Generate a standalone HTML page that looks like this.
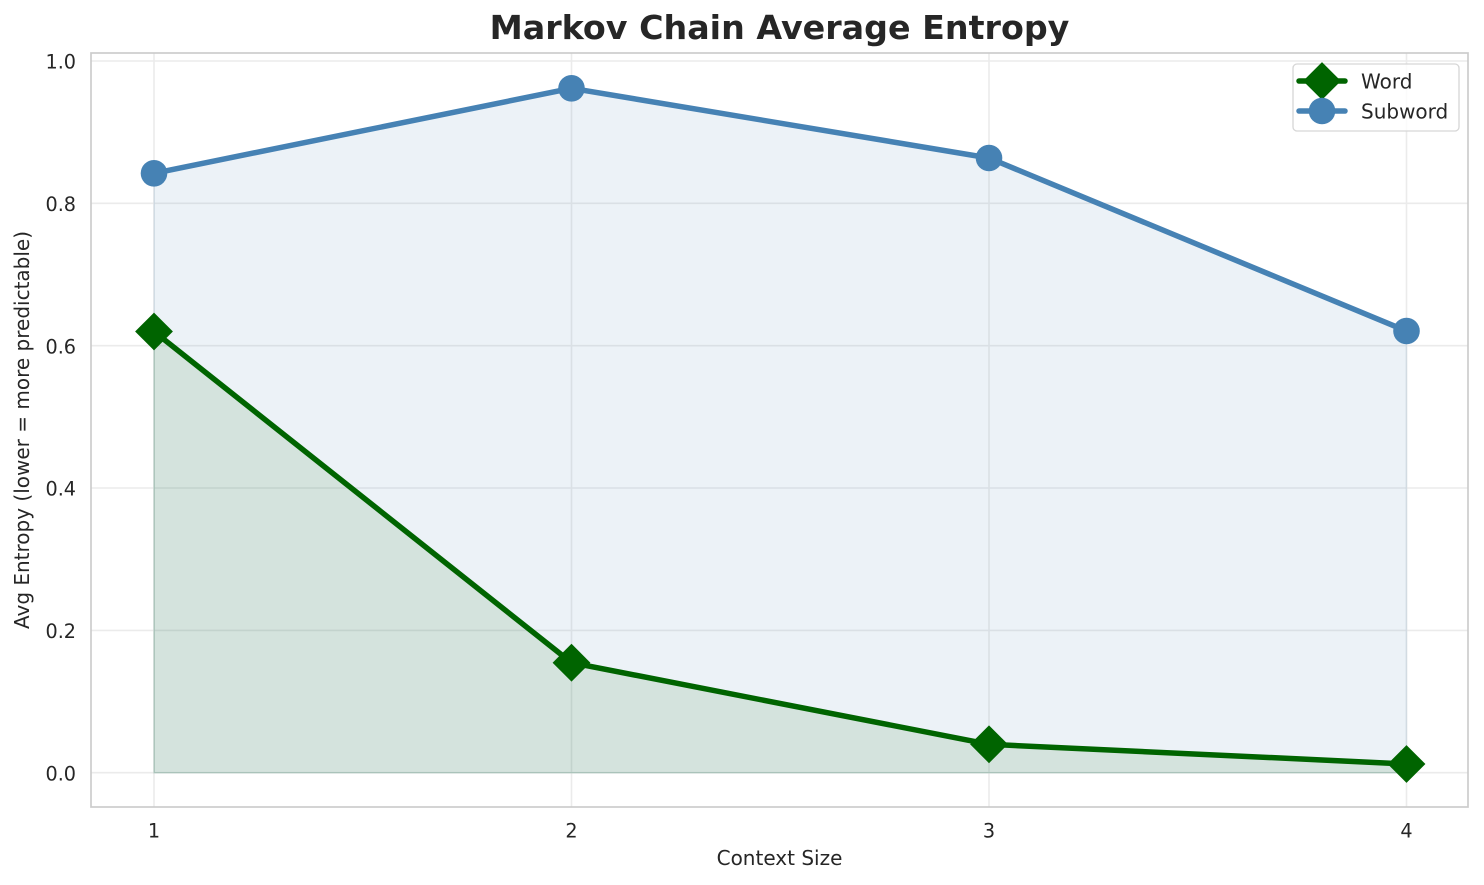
<!DOCTYPE html>
<html>
<head>
<meta charset="utf-8">
<style>
html,body{margin:0;padding:0;background:#fff;}
svg{display:block;}
text{font-family:"DejaVu Sans","Liberation Sans",sans-serif;fill:#262626;}
</style>
</head>
<body>
<svg width="1484" height="885" viewBox="0 0 1484 885" xmlns="http://www.w3.org/2000/svg">
  <rect x="0" y="0" width="1484" height="885" fill="#fff"/>
  <!-- grid -->
  <g stroke="#ebebeb" stroke-width="1.6">
    <line x1="91" y1="772.7" x2="1468" y2="772.7"/>
    <line x1="91" y1="630.4" x2="1468" y2="630.4"/>
    <line x1="91" y1="488" x2="1468" y2="488"/>
    <line x1="91" y1="345.7" x2="1468" y2="345.7"/>
    <line x1="91" y1="203.3" x2="1468" y2="203.3"/>
    <line x1="91" y1="61" x2="1468" y2="61"/>
    <line x1="154" y1="53" x2="154" y2="807"/>
    <line x1="571.5" y1="53" x2="571.5" y2="807"/>
    <line x1="989" y1="53" x2="989" y2="807"/>
    <line x1="1406.5" y1="53" x2="1406.5" y2="807"/>
  </g>
  <!-- fills -->
  <polygon points="154,772.7 154,173.3 571.5,88.3 989,158 1406.5,331 1406.5,772.7" fill="rgb(70,130,180)" fill-opacity="0.1" stroke="rgb(70,130,180)" stroke-opacity="0.1" stroke-width="1.5"/>
  <polygon points="154,772.7 154,331.5 571.5,662.7 989,744.3 1406.5,764 1406.5,772.7" fill="rgb(0,100,0)" fill-opacity="0.1" stroke="rgb(0,100,0)" stroke-opacity="0.1" stroke-width="1.5"/>
  <!-- spines -->
  <rect x="91" y="53" width="1377" height="754" fill="none" stroke="#cccccc" stroke-width="1.7"/>
  <!-- word line -->
  <polyline points="154,331.5 571.5,662.7 989,744.3 1406.5,764" fill="none" stroke="#006400" stroke-width="5.5" stroke-linejoin="round" stroke-linecap="round"/>
  <g fill="#006400">
    <polygon points="154,312.6 172.9,331.5 154,350.4 135.1,331.5"/>
    <polygon points="571.5,643.8 590.4,662.7 571.5,681.6 552.6,662.7"/>
    <polygon points="989,725.4 1007.9,744.3 989,763.2 970.1,744.3"/>
    <polygon points="1406.5,745.1 1425.4,764 1406.5,782.9 1387.6,764"/>
  </g>
  <!-- subword line -->
  <polyline points="154,173.3 571.5,88.3 989,158 1406.5,331" fill="none" stroke="#4682b4" stroke-width="5.5" stroke-linejoin="round" stroke-linecap="round"/>
  <g fill="#4682b4">
    <circle cx="154" cy="173.3" r="13.3"/>
    <circle cx="571.5" cy="88.3" r="13.3"/>
    <circle cx="989" cy="158" r="13.3"/>
    <circle cx="1406.5" cy="331" r="13.3"/>
  </g>
  <!-- y tick labels -->
  <g font-size="19.2" text-anchor="end">
    <text x="76" y="780.4">0.0</text>
    <text x="76" y="638.1">0.2</text>
    <text x="76" y="495.7">0.4</text>
    <text x="76" y="353.4">0.6</text>
    <text x="76" y="211">0.8</text>
    <text x="76" y="68.7">1.0</text>
  </g>
  <!-- x tick labels -->
  <g font-size="19.2" text-anchor="middle">
    <text x="154" y="837.7">1</text>
    <text x="571.5" y="837.7">2</text>
    <text x="989" y="837.7">3</text>
    <text x="1406.5" y="837.7">4</text>
  </g>
  <!-- axis labels -->
  <text x="779.5" y="865" font-size="20" text-anchor="middle">Context Size</text>
  <text transform="translate(29,430) rotate(-90)" font-size="20" text-anchor="middle">Avg Entropy (lower = more predictable)</text>
  <!-- title -->
  <text x="779.5" y="39" font-size="33.3" font-weight="bold" text-anchor="middle">Markov Chain Average Entropy</text>
  <!-- legend -->
  <rect x="1293" y="64" width="166" height="67" rx="4" ry="4" fill="#fff" fill-opacity="0.8" stroke="#d6d6d6" stroke-width="1.3"/>
  <line x1="1299" y1="81" x2="1345" y2="81" stroke="#006400" stroke-width="5.5" stroke-linecap="round"/>
  <polygon points="1322,62.1 1340.9,81 1322,99.9 1303.1,81" fill="#006400"/>
  <line x1="1299" y1="111" x2="1345" y2="111" stroke="#4682b4" stroke-width="5.5" stroke-linecap="round"/>
  <circle cx="1322" cy="111" r="13.3" fill="#4682b4"/>
  <text x="1361" y="88.3" font-size="20">Word</text>
  <text x="1361" y="118.3" font-size="20">Subword</text>
</svg>
</body>
</html>
